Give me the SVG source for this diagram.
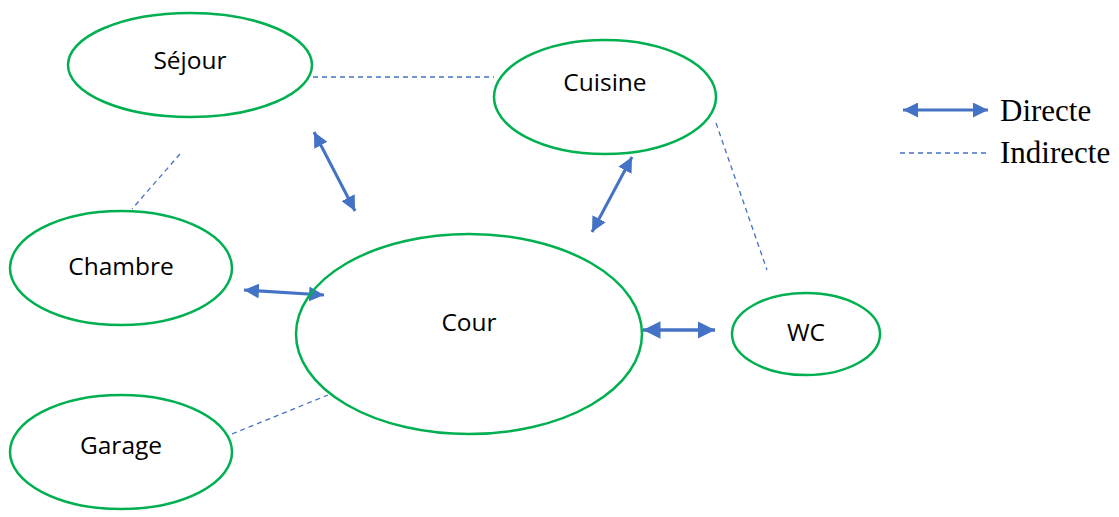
<svg xmlns="http://www.w3.org/2000/svg" width="1119" height="517" viewBox="0 0 1119 517">
<style>
.n{fill:none;stroke:#00B050;stroke-width:2.5}
.t{font-family:"Open Sans","Liberation Sans",sans-serif;font-size:24.5px;fill:#000;text-anchor:middle;dominant-baseline:middle}
.d{stroke:#4472C4;stroke-width:1.3;stroke-dasharray:5,4;fill:none}
.a{stroke:#4472C4;stroke-width:3;fill:none;marker-start:url(#h);marker-end:url(#h)}
.l{font-family:"Liberation Serif",serif;font-size:31px;fill:#000}
</style>
<defs>
<marker id="h" viewBox="0 0 10 10" refX="10" refY="5" markerWidth="5" markerHeight="5" orient="auto-start-reverse" markerUnits="strokeWidth">
<path d="M0,0 L10,5 L0,10 z" fill="#4472C4"/>
</marker>
</defs>
<rect width="1119" height="517" fill="#fff"/>
<g id="connectors">
<line class="d" x1="313" y1="77" x2="494" y2="77"/>
<line class="d" x1="180" y1="154" x2="132" y2="209"/>
<line class="d" x1="716" y1="123" x2="767" y2="270"/>
<line class="d" x1="232" y1="434" x2="328" y2="395"/>
<line class="a" x1="314" y1="132" x2="355" y2="211"/>
<line class="a" x1="632" y1="157" x2="592" y2="232"/>
<line class="a" x1="244" y1="290" x2="324" y2="295"/>
<line class="a" x1="643" y1="330" x2="715" y2="330" style="stroke-width:3.5"/>
</g>
<g id="sejour"><ellipse class="n" cx="190" cy="65" rx="122" ry="52"/><text class="t" x="190" y="62">Séjour</text></g>
<g id="cuisine"><ellipse class="n" cx="605" cy="97" rx="111" ry="57"/><text class="t" x="605" y="84">Cuisine</text></g>
<g id="chambre"><ellipse class="n" cx="121" cy="268" rx="111" ry="57"/><text class="t" x="121" y="268">Chambre</text></g>
<g id="cour"><ellipse class="n" cx="469" cy="334" rx="173" ry="100"/><text class="t" x="469" y="324">Cour</text></g>
<g id="wc"><ellipse class="n" cx="806" cy="334" rx="74" ry="41"/><text class="t" x="806" y="334">WC</text></g>
<g id="garage"><ellipse class="n" cx="121" cy="452" rx="111" ry="57"/><text class="t" x="121" y="447">Garage</text></g>
<g id="legend">
<line class="a" x1="903" y1="110" x2="988" y2="110"/>
<text class="l" x="1000" y="121">Directe</text>
<line class="d" x1="900" y1="153" x2="990" y2="153"/>
<text class="l" x="1000" y="163">Indirecte</text>
</g>
</svg>
